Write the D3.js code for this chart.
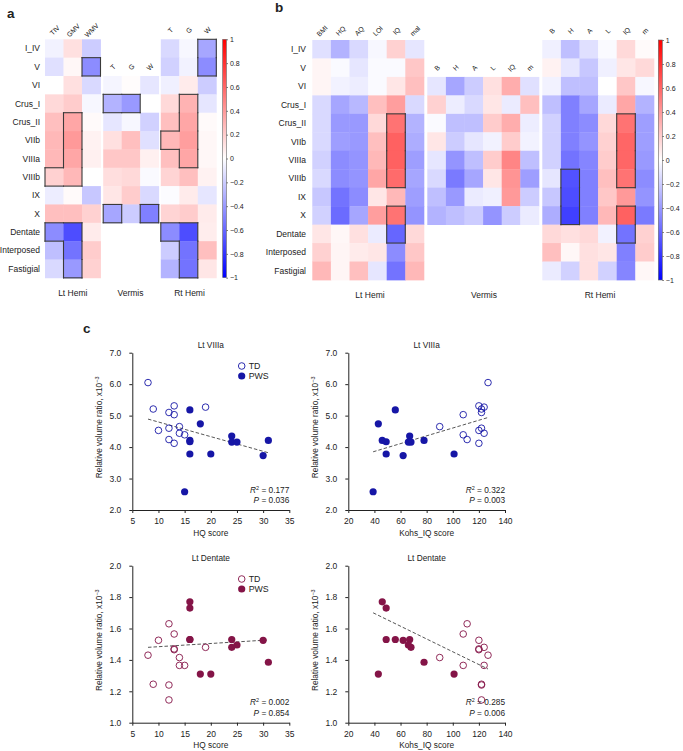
<!DOCTYPE html>
<html><head><meta charset="utf-8">
<script src="https://cdn.jsdelivr.net/npm/d3@7"></script>
<style>
body{margin:0;background:#fff;}
svg text{font-family:Arial,"Liberation Sans",sans-serif;fill:#222;}
</style>
</head><body>
<svg id="chart" width="683" height="751"></svg>
<script>
// ---------- DATA ----------
const rows = ["I_IV","V","VI","Crus_I","Crus_II","VIIb","VIIIa","VIIIb","IX","X","Dentate","Interposed","Fastigial"];
const aLtCols = ["TIV","GMV","WMV"];
const aShortCols = ["T","G","W"];
const bLtCols = ["BMI","HQ","AQ","LOI","IQ","mal"];
const bShortCols = ["B","H","A","L","IQ","m"];
const groupLabels = ["Lt Hemi","Vermis","Rt Hemi"];
const cbTicks = [1,0.8,0.6,0.4,0.2,0,-0.2,-0.4,-0.6,-0.8,-1];

const aLt = [
 [-0.05,0.12,-0.2],[-0.12,0.03,-0.45],[0.0,0.12,-0.15],[0.15,0.2,-0.03],[0.25,0.35,0.02],
 [0.28,0.4,0.05],[0.28,0.35,0.06],[0.18,0.28,0.0],[-0.07,0.02,-0.22],[0.25,0.25,0.18],
 [-0.45,-0.7,0.08],[-0.25,-0.55,0.2],[-0.15,-0.4,0.18]];
const aVermis = [
 null,null,[-0.04,0.01,-0.1],[-0.3,-0.4,0.0],[-0.1,-0.03,-0.18],[0.12,0.25,-0.12],
 [0.22,0.22,0.06],[0.13,0.15,-0.02],[0.1,0.2,-0.15],[-0.35,-0.2,-0.5],null,null,null];
const aRt = [
 [-0.15,-0.03,-0.35],[-0.18,-0.05,-0.45],[-0.06,0.08,-0.2],[0.15,0.3,-0.1],[0.25,0.35,0.02],
 [0.28,0.38,0.03],[0.25,0.35,0.03],[0.17,0.25,0.05],[-0.01,0.08,-0.1],[0.17,0.2,0.08],
 [-0.45,-0.7,0.07],[-0.2,-0.55,0.25],[-0.3,-0.55,0.1]];
const aLtSig = [[[2,1]],[[1,4],[1,5],[1,6],[1,7],[0,7]],[[0,10],[1,10],[1,11],[1,12]]];
const aVermisSig = [[[0,3],[1,3]],[[0,9]],[[2,9]]];
const aRtSig = [[[2,0],[2,1]],[[1,3],[1,4],[1,5],[1,6],[0,5]],[[0,10],[1,10],[1,11],[1,12]]];

const bLt = [
 [-0.12,-0.3,-0.15,-0.03,0.18,-0.1],[0.04,-0.02,-0.1,-0.02,-0.02,0.22],[0.04,-0.05,-0.07,-0.02,0.1,0.25],
 [-0.15,-0.35,-0.28,0.25,0.38,-0.15],[-0.15,-0.4,-0.4,0.15,0.55,-0.3],[-0.15,-0.38,-0.4,0.25,0.62,-0.32],
 [-0.18,-0.45,-0.42,0.28,0.62,-0.38],[-0.15,-0.45,-0.42,0.35,0.58,-0.35],[-0.22,-0.55,-0.45,0.1,0.28,-0.38],
 [-0.18,-0.58,-0.35,0.38,0.55,-0.42],[0.1,0.03,0.12,-0.08,-0.6,0.15],[0.18,0.04,0.08,0.1,-0.45,0.22],
 [0.28,0.04,0.25,-0.1,-0.55,0.28]];
const bVermis = [
 null,null,[-0.1,-0.35,-0.2,0.12,0.32,-0.12],[0.18,-0.07,-0.15,0.1,-0.08,0.25],
 [-0.02,-0.25,-0.25,0.2,0.32,-0.07],[0.1,-0.2,-0.1,-0.05,0.2,-0.05],[-0.1,-0.42,-0.25,0.2,0.48,-0.25],
 [-0.15,-0.52,-0.35,0.1,0.42,-0.38],[-0.25,-0.4,-0.08,-0.06,0.4,-0.2],[-0.3,-0.25,-0.2,-0.42,-0.2,-0.08],
 null,null,null];
const bRt = [
 [-0.06,-0.25,-0.12,-0.02,0.15,0.02],[0.05,-0.1,-0.22,-0.06,0.1,0.15],[-0.05,-0.25,-0.25,0.0,0.22,-0.03],
 [-0.25,-0.5,-0.35,-0.08,0.35,-0.3],[-0.18,-0.5,-0.45,0.15,0.55,-0.38],[-0.18,-0.5,-0.42,0.18,0.6,-0.38],
 [-0.18,-0.55,-0.48,0.2,0.6,-0.4],[-0.1,-0.68,-0.5,0.25,0.55,-0.45],[-0.22,-0.7,-0.5,0.22,0.4,-0.42],
 [-0.32,-0.75,-0.5,0.28,0.62,-0.52],[0.15,0.12,0.15,-0.05,-0.55,0.18],[0.25,0.03,0.12,0.1,-0.5,0.2],
 [-0.08,-0.18,0.12,-0.18,-0.48,0.03]];
const bLtSig = [[[4,4],[4,5],[4,6],[4,7]],[[4,9],[4,10]]];
const bVermisSig = [];
const bRtSig = [[[4,4],[4,5],[4,6],[4,7]],[[1,7],[1,8],[1,9]],[[4,9],[4,10]]];

// scatter data (TD = typically developing, PWS)
const tdHQ      = [8,9,12,13,13,19,10,12,14,14,15,12,13];
const tdIQ      = [127,122,122,120,108,124,120,122,90,124,108,111,120];
const tdVIIIa   = [6.05,5.21,5.10,5.31,5.03,5.27,4.53,4.60,4.65,4.44,4.39,4.24,4.12];
const tdDentate = [1.43,1.245,1.24,1.465,1.565,1.48,1.525,1.145,1.415,1.365,1.365,1.63,1.47];
const pwsHQ      = [16,18,24,15,16,20,30,31,16,24,25,16];
const pwsIQ      = [56,43,67,39,49,101,62,78,46,68,66,49];
const pwsVIIIa   = [5.18,4.74,4.35,2.58,3.78,3.78,3.73,4.21,4.21,4.16,4.16,4.17];
const pwsDentate = [1.53,1.31,1.53,null,1.73,1.31,1.525,1.385,1.77,1.48,1.495,1.53];
const fitVIIIaHQ   = [[8,4.89],[31,3.82]];
const fitVIIIaIQ   = [[39,3.85],[127,4.94]];
const fitDentateHQ = [[8,1.48],[31,1.527]];
const fitDentateIQ = [[39,1.70],[127,1.342]];
const hqTicks = [5,10,15,20,25,30,35];
const iqTicks = [20,40,60,80,100,120,140];
const viiiaTicks = [2,3,4,5,6,7];
const dentTicks = [1.0,1.2,1.4,1.6,1.8,2.0];

// ---------- DRAW ----------
const svg = d3.select("#chart");
const color = d3.scaleLinear().domain([-1,0,1]).range(["#0000ff","#ffffff","#ff0000"]);

function heat(o){
  const g = svg.append("g");
  const x = d3.scaleBand().domain(d3.range(o.cols.length)).range([o.x0, o.x0 + o.cols.length*o.cw]);
  const y = d3.scaleBand().domain(d3.range(rows.length)).range([o.y0, o.y0 + rows.length*o.ch]);
  const cells = [];
  o.vals.forEach((r,ri)=>{ if(r) r.forEach((v,ci)=>cells.push({ri,ci,v})); });
  g.selectAll("rect").data(cells).join("rect")
    .attr("x",d=>x(d.ci)).attr("y",d=>y(d.ri))
    .attr("width",x.bandwidth()+0.4).attr("height",y.bandwidth()+0.4)
    .attr("fill",d=>color(d.v));
  const first = o.vals.findIndex(r=>r);
  g.selectAll("text.hd").data(o.cols).join("text")
    .attr("font-size",o.hfs)
    .attr("text-anchor","middle")
    .attr("transform",(d,i)=>`translate(${x(i)+x.bandwidth()/2+0.5},${y(first)-9}) rotate(-45)`)
    .attr("dy","0.35em")
    .text(d=>d);
  const lines = [];
  o.sig.forEach(box=>{
    const has=(c,r)=>box.some(b=>b[0]===c&&b[1]===r);
    box.forEach(([c,r])=>{
      const x0=x(c), x1=x(c)+x.bandwidth(), y0=y(r), y1=y(r)+y.bandwidth();
      if(!has(c,r-1)) lines.push([x0,y0,x1,y0]);
      if(!has(c,r+1)) lines.push([x0,y1,x1,y1]);
      if(!has(c-1,r)) lines.push([x0,y0,x0,y1]);
      if(!has(c+1,r)) lines.push([x1,y0,x1,y1]);
    });
  });
  g.selectAll("line").data(lines).join("line")
    .attr("x1",d=>d[0]).attr("y1",d=>d[1]).attr("x2",d=>d[2]).attr("y2",d=>d[3])
    .attr("stroke","#3a3a3a").attr("stroke-width",1.1).attr("stroke-linecap","square");
}

function rowLabels(xr, y0, ch){
  const y = d3.scaleBand().domain(d3.range(rows.length)).range([y0, y0+rows.length*ch]);
  svg.append("g").selectAll("text").data(rows).join("text")
    .attr("x",xr).attr("y",(d,i)=>y(i)+y.bandwidth()/2).attr("dy","0.35em")
    .attr("text-anchor","end").attr("font-size",8.5).text(d=>d);
}

function colorbar(id,x0,y0,w,h){
  const defs = svg.append("defs");
  const gr = defs.append("linearGradient").attr("id",id).attr("x1",0).attr("x2",0).attr("y1",1).attr("y2",0);
  d3.range(0,1.0001,0.05).forEach(t=>gr.append("stop").attr("offset",t).attr("stop-color",color(-1+2*t)));
  svg.append("rect").attr("x",x0).attr("y",y0).attr("width",w).attr("height",h)
    .attr("fill",`url(#${id})`).attr("stroke","#666").attr("stroke-width",0.6);
  const s = d3.scaleLinear().domain([-1,1]).range([y0+h,y0]);
  const ax = svg.append("g").attr("transform",`translate(${x0+w},0)`)
    .call(d3.axisRight(s).tickValues(cbTicks).tickSize(1.5).tickPadding(2).tickFormat(d3.format("~g")));
  ax.select(".domain").remove();
  ax.selectAll("line").attr("stroke","#666");
  ax.selectAll("text").attr("font-size",7).attr("font-family","Arial").attr("fill","#222");
}

// panel a
const A = {y0:39.3, cw:18.5, ch:18.35, hfs:6.8};
rowLabels(40, A.y0, A.ch);
heat({...A, x0:45,    vals:aLt,    cols:aLtCols,    sig:aLtSig});
heat({...A, x0:103.2, vals:aVermis,cols:aShortCols, sig:aVermisSig});
heat({...A, x0:160.8, vals:aRt,    cols:aShortCols, sig:aRtSig});
colorbar("gA",222.7,39.3,3.7,238.4);
[72.8,130.5,189.5].forEach((cx,i)=>svg.append("text").attr("x",cx).attr("y",296).attr("text-anchor","middle").attr("font-size",8.5).text(groupLabels[i]));

// panel b
const B = {y0:40, cw:18.6, ch:18.46, hfs:6.8};
rowLabels(306, B.y0, B.ch);
heat({...B, x0:312.3, vals:bLt,    cols:bLtCols,    sig:bLtSig});
heat({...B, x0:427.3, vals:bVermis,cols:bShortCols, sig:bVermisSig});
heat({...B, x0:542.3, vals:bRt,    cols:bShortCols, sig:bRtSig});
colorbar("gB",658.3,40,4,240);
[370,484,600].forEach((cx,i)=>svg.append("text").attr("x",cx).attr("y",298).attr("text-anchor","middle").attr("font-size",8.5).text(groupLabels[i]));

// panel letters
[["a",7,17.5],["b",275,12],["c",83,333]].forEach(([t,x,y])=>
  svg.append("text").attr("x",x).attr("y",y).attr("font-size",13.5).attr("font-weight","bold").attr("fill","#111").text(t));

// scatter plots
function scatter(o){
  const g = svg.append("g");
  const x = d3.scaleLinear().domain(o.xDomain).range([o.left,o.right]);
  const y = d3.scaleLinear().domain(o.yDomain).range([o.bottom,o.top]);
  const xa = g.append("g").attr("transform",`translate(0,${o.bottom})`)
    .call(d3.axisBottom(x).tickValues(o.xTicks).tickSize(3).tickSizeOuter(0).tickPadding(5));
  const ya = g.append("g").attr("transform",`translate(${o.left},0)`)
    .call(d3.axisLeft(y).tickValues(o.yTicks).tickSize(3).tickSizeOuter(0).tickPadding(8).tickFormat(d3.format(".1f")));
  [xa,ya].forEach(a=>{
    a.selectAll("text").attr("font-size",8.5).attr("font-family","Arial").attr("fill","#222");
    a.selectAll("line,path").attr("stroke","#222");
  });
  g.append("line").attr("x1",x(o.fit[0][0])).attr("y1",y(o.fit[0][1]))
    .attr("x2",x(o.fit[1][0])).attr("y2",y(o.fit[1][1]))
    .attr("stroke","#444").attr("stroke-width",0.9).attr("stroke-dasharray","3.5,2");
  const td = o.tdX.map((v,i)=>[v,o.tdY[i]]).filter(d=>d[1]!=null);
  const pw = o.pwX.map((v,i)=>[v,o.pwY[i]]).filter(d=>d[1]!=null);
  g.selectAll("circle.td").data(td).join("circle").attr("class","td")
    .attr("cx",d=>x(d[0])).attr("cy",d=>y(d[1])).attr("r",3.3)
    .attr("fill","none").attr("stroke",o.col).attr("stroke-width",0.9);
  g.selectAll("circle.pw").data(pw).join("circle").attr("class","pw")
    .attr("cx",d=>x(d[0])).attr("cy",d=>y(d[1])).attr("r",3.6)
    .attr("fill",o.col);
  g.append("text").attr("x",(o.left+o.right)/2).attr("y",o.top-4.5).attr("text-anchor","middle")
    .attr("font-size",8.3).text(o.title);
  g.append("text").attr("x",(o.left+o.right)/2).attr("y",o.bottom+25.5).attr("text-anchor","middle")
    .attr("font-size",8.3).text(o.xlabel);
  const yl = g.append("text").attr("transform",`translate(${o.left-30},${(o.top+o.bottom)/2-4}) rotate(-90)`)
    .attr("text-anchor","middle").attr("font-size",8.3);
  yl.append("tspan").text("Relative volume ratio, x10");
  yl.append("tspan").attr("dy",-3).attr("font-size",5.5).text("−3");
  const st = g.append("text").attr("x",o.right).attr("y",o.bottom-17.5).attr("text-anchor","end").attr("font-size",8.3);
  st.append("tspan").attr("font-style","italic").text("R");
  st.append("tspan").attr("dy",-3).attr("font-size",5.5).text("2");
  st.append("tspan").attr("dy",3).text(" = " + o.r2);
  const pt = g.append("text").attr("x",o.right).attr("y",o.bottom-7).attr("text-anchor","end").attr("font-size",8.3);
  pt.append("tspan").attr("font-style","italic").text("P");
  pt.append("tspan").text("  = " + o.p);
  if(o.legend){
    const lx=o.left+109.4, ly=o.top+13.3;
    g.append("circle").attr("cx",lx).attr("cy",ly).attr("r",3.3).attr("fill","none").attr("stroke",o.col).attr("stroke-width",0.9);
    g.append("circle").attr("cx",lx).attr("cy",ly+10).attr("r",3.6).attr("fill",o.col);
    g.append("text").attr("x",lx+7).attr("y",ly).attr("dy","0.35em").attr("font-size",8.8).text("TD");
    g.append("text").attr("x",lx+7).attr("y",ly+10).attr("dy","0.35em").attr("font-size",8.8).text("PWS");
  }
}
const blue="#1616a6", maroon="#841447";
scatter({left:132.3,right:289.3,top:352.7,bottom:510,xDomain:[5,35],yDomain:[2,7],xTicks:hqTicks,yTicks:viiiaTicks,
  tdX:tdHQ,tdY:tdVIIIa,pwX:pwsHQ,pwY:pwsVIIIa,fit:fitVIIIaHQ,col:blue,title:"Lt VIIIa",xlabel:"HQ score",r2:"0.177",p:"0.036",legend:true});
scatter({left:348.3,right:505,top:352.7,bottom:510,xDomain:[20,140],yDomain:[2,7],xTicks:iqTicks,yTicks:viiiaTicks,
  tdX:tdIQ,tdY:tdVIIIa,pwX:pwsIQ,pwY:pwsVIIIa,fit:fitVIIIaIQ,col:blue,title:"Lt VIIIa",xlabel:"Kohs_IQ score",r2:"0.322",p:"0.003",legend:false});
scatter({left:132.3,right:289.3,top:565.7,bottom:722.7,xDomain:[5,35],yDomain:[1,2],xTicks:hqTicks,yTicks:dentTicks,
  tdX:tdHQ,tdY:tdDentate,pwX:pwsHQ,pwY:pwsDentate,fit:fitDentateHQ,col:maroon,title:"Lt Dentate",xlabel:"HQ score",r2:"0.002",p:"0.854",legend:true});
scatter({left:348.3,right:505,top:565.7,bottom:722.7,xDomain:[20,140],yDomain:[1,2],xTicks:iqTicks,yTicks:dentTicks,
  tdX:tdIQ,tdY:tdDentate,pwX:pwsIQ,pwY:pwsDentate,fit:fitDentateIQ,col:maroon,title:"Lt Dentate",xlabel:"Kohs_IQ score",r2:"0.285",p:"0.006",legend:false});
</script>
</body></html>
